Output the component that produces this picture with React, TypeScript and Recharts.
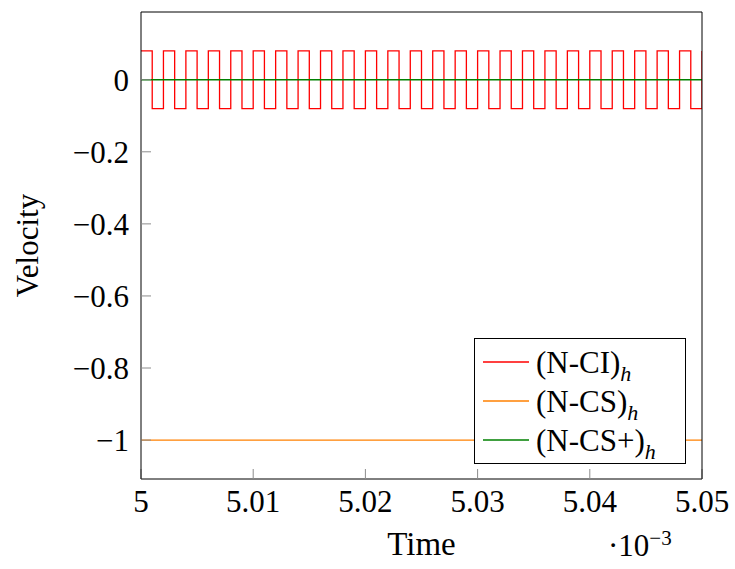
import React from 'react';
import { LineChart, Line, XAxis, YAxis, Legend, Label } from 'recharts';

const FONT = "'Liberation Serif', 'DejaVu Serif', serif";

// time axis, in units of 1e-3
const timeSteps = [
  5.0, 5.001, 5.002, 5.003, 5.004, 5.005, 5.006, 5.007, 5.008, 5.009,
  5.01, 5.011, 5.012, 5.013, 5.014, 5.015, 5.016, 5.017, 5.018, 5.019,
  5.02, 5.021, 5.022, 5.023, 5.024, 5.025, 5.026, 5.027, 5.028, 5.029,
  5.03, 5.031, 5.032, 5.033, 5.034, 5.035, 5.036, 5.037, 5.038, 5.039,
  5.04, 5.041, 5.042, 5.043, 5.044, 5.045, 5.046, 5.047, 5.048, 5.049,
  5.05,
];

const nciVelocity = [
  0.08, -0.08, 0.08, -0.08, 0.08, -0.08, 0.08, -0.08, 0.08, -0.08,
  0.08, -0.08, 0.08, -0.08, 0.08, -0.08, 0.08, -0.08, 0.08, -0.08,
  0.08, -0.08, 0.08, -0.08, 0.08, -0.08, 0.08, -0.08, 0.08, -0.08,
  0.08, -0.08, 0.08, -0.08, 0.08, -0.08, 0.08, -0.08, 0.08, -0.08,
  0.08, -0.08, 0.08, -0.08, 0.08, -0.08, 0.08, -0.08, 0.08, -0.08,
  0.08,
];

const flatTime = [5.0, 5.05];
const ncsVelocity = [-1, -1];
const ncsPlusVelocity = [0, 0];

const seriesNames = ['(N-CI)', '(N-CS)', '(N-CS+)'];
const seriesColors = ['#ff0000', '#ff8000', '#008000'];

const xTicks = [5, 5.01, 5.02, 5.03, 5.04, 5.05];
const yTicks = [-1, -0.8, -0.6, -0.4, -0.2, 0];

const nciData = timeSteps.map((t, i) => ({ t, v: nciVelocity[i] }));
const ncsData = flatTime.map((t, i) => ({ t, v: ncsVelocity[i] }));
const ncsPlusData = flatTime.map((t, i) => ({ t, v: ncsPlusVelocity[i] }));

const fmt = (v: number) => String(v).replace('-', '\u2212');

const XTick = ({ x, y, payload }: any) => (
  <text x={x} y={y} dy={33} textAnchor="middle" fontSize={31} fontFamily={FONT} fill="#000">
    {fmt(payload.value)}
  </text>
);

const YTick = ({ x, y, payload }: any) => (
  <text x={x} y={y} dy={11} textAnchor="end" fontSize={31} fontFamily={FONT} fill="#000">
    {fmt(payload.value)}
  </text>
);

const LegendBox = () => (
  <div
    style={{
      boxSizing: 'border-box',
      width: 212,
      height: 126,
      border: '1px solid #000',
      background: '#fff',
      padding: '3.5px 0 0 8px',
      fontFamily: FONT,
    }}
  >
    {seriesNames.map((name, i) => (
      <div key={name} style={{ display: 'flex', alignItems: 'center', height: 39 }}>
        <svg width={46} height={4} style={{ marginRight: 7, display: 'block' }}>
          <line x1={0} y1={2} x2={46} y2={2} stroke={seriesColors[i]} strokeWidth={1.4} />
        </svg>
        <span style={{ fontSize: 31, lineHeight: '31px', color: '#000', whiteSpace: 'nowrap' }}>
          {name}
          <span style={{ fontStyle: 'italic', fontSize: 22, lineHeight: '16px', position: 'relative', top: 8 }}>h</span>
        </span>
      </div>
    ))}
  </div>
);

export default function App() {
  return (
    <div style={{ position: 'absolute', left: 0, top: 0, background: '#fff' }}>
      <LineChart
        width={735}
        height={569}
        data={nciData}
        margin={{ top: 11, right: 32, bottom: 0, left: 0 }}
      >
        <XAxis
          xAxisId="b"
          type="number"
          dataKey="t"
          domain={[5, 5.05]}
          allowDataOverflow
          ticks={xTicks}
          interval={0}
          height={90}
          tickSize={-10}
          tickMargin={10}
          axisLine={{ stroke: '#000' }}
          tickLine={{ stroke: '#8c8c8c' }}
          tick={<XTick />}
        >
          <Label
            content={({ viewBox }: any) => (
              <text x={viewBox.x + viewBox.width / 2} y={viewBox.y + 76} textAnchor="middle" fontSize={33} fontFamily={FONT} fill="#000">
                Time
              </text>
            )}
          />
          <Label
            content={({ viewBox }: any) => (
              <text x={608} y={viewBox.y + 77} fontSize={31} fontFamily={FONT} fill="#000">
                ·10
                <tspan fontSize={21} dy={-11}>{'\u22123'}</tspan>
              </text>
            )}
          />
        </XAxis>
        <XAxis
          xAxisId="t"
          orientation="top"
          type="number"
          dataKey="t"
          domain={[5, 5.05]}
          allowDataOverflow
          ticks={xTicks}
          interval={0}
          height={1}
          tickSize={-10}
          axisLine={{ stroke: '#000' }}
          tickLine={{ stroke: '#8c8c8c' }}
          tick={false}
        />
        <YAxis
          yAxisId="l"
          type="number"
          domain={[-1.108, 0.188]}
          allowDataOverflow
          ticks={yTicks}
          interval={0}
          width={141}
          tickSize={-10}
          tickMargin={22}
          axisLine={{ stroke: '#000' }}
          tickLine={{ stroke: '#8c8c8c' }}
          tick={<YTick />}
        >
          <Label
            content={({ viewBox }: any) => {
              const cx = viewBox.x + 38;
              const cy = viewBox.y + viewBox.height / 2;
              return (
                <text x={cx} y={cy} transform={`rotate(-90, ${cx}, ${cy})`} textAnchor="middle" fontSize={31} fontFamily={FONT} fill="#000">
                  Velocity
                </text>
              );
            }}
          />
        </YAxis>
        <YAxis
          yAxisId="r"
          orientation="right"
          type="number"
          domain={[-1.108, 0.188]}
          allowDataOverflow
          ticks={yTicks}
          interval={0}
          width={1}
          tickSize={-10}
          axisLine={{ stroke: '#000' }}
          tickLine={{ stroke: '#8c8c8c' }}
          tick={false}
        />
        <Line
          xAxisId="b"
          yAxisId="l"
          data={nciData}
          dataKey="v"
          name={seriesNames[0]}
          type="stepAfter"
          stroke={seriesColors[0]}
          strokeWidth={1.3}
          dot={false}
          isAnimationActive={false}
        />
        <Line
          xAxisId="b"
          yAxisId="l"
          data={ncsData}
          dataKey="v"
          name={seriesNames[1]}
          type="linear"
          stroke={seriesColors[1]}
          strokeWidth={1.3}
          dot={false}
          isAnimationActive={false}
        />
        <Line
          xAxisId="b"
          yAxisId="l"
          data={ncsPlusData}
          dataKey="v"
          name={seriesNames[2]}
          type="linear"
          stroke={seriesColors[2]}
          strokeWidth={1.3}
          dot={false}
          isAnimationActive={false}
        />
        <Legend
          layout="horizontal"
          verticalAlign="middle"
          align="center"
          content={<LegendBox />}
          wrapperStyle={{ left: 474, top: 338, width: 212, height: 126 }}
        />
      </LineChart>
    </div>
  );
}
